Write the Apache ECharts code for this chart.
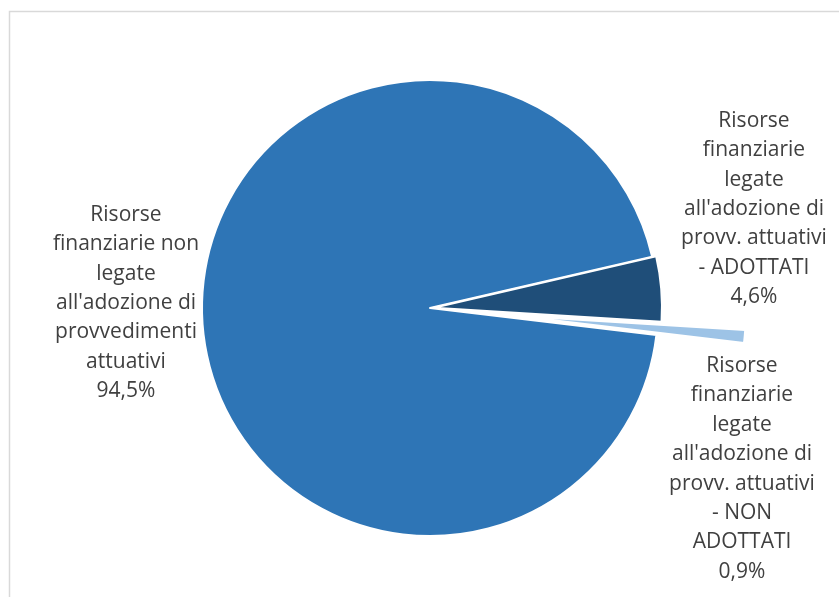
<!DOCTYPE html>
<html>
<head>
<meta charset="utf-8">
<script src="https://cdn.jsdelivr.net/npm/echarts@6/dist/echarts.min.js"></script>
<style>
  html, body { margin: 0; padding: 0; background: #fff; }
  #main { width: 839px; height: 597px; }
</style>
</head>
<body>
<div id="main"></div>
<script>
  // dati del grafico
  var categories = [
    "Risorse finanziarie non legate all'adozione di provvedimenti attuativi",
    "Risorse finanziarie legate all'adozione di provv. attuativi - ADOTTATI",
    "Risorse finanziarie legate all'adozione di provv. attuativi - NON ADOTTATI"
  ];
  var values = [94.5, 4.6, 0.9];
  // righe delle etichette come nell'originale
  var labelLines = [
    ["Risorse", "finanziarie non", "legate", "all'adozione di", "provvedimenti", "attuativi"],
    ["Risorse", "finanziarie", "legate", "all'adozione di", "provv. attuativi", "- ADOTTATI"],
    ["Risorse", "finanziarie", "legate", "all'adozione di", "provv. attuativi", "- NON", "ADOTTATI"]
  ];
  var colors = ['#2E75B6', '#1F4E79', '#9DC3E6'];

  var labelPos = [[126, 303], [754, 209], [742, 469]];
  var explode = [0, 4, 88];   // distacco delle fette in px

  var cx = 430, cy = 308, R = 228, startAngle = 353.2;

  var myChart = echarts.init(document.getElementById('main'));

  function fmtPct(v) {
    return v.toFixed(1).replace('.', ',') + '%';
  }

  var total = values.reduce(function (a, b) { return a + b; }, 0);

  // una serie per fetta, spostata lungo la bisettrice per l'effetto "esploso"
  function sliceSeries(k) {
    var before = 0;
    for (var i = 0; i < k; i++) before += values[i];
    var mid = startAngle - (before + values[k] / 2) / total * 360;
    var rad = mid * Math.PI / 180;
    var ox = explode[k] * Math.cos(rad), oy = -explode[k] * Math.sin(rad);
    return {
      type: 'pie',
      center: [cx + ox, cy + oy],
      radius: R,
      startAngle: startAngle,
      clockwise: true,
      animation: false,
      silent: true,
      emphasis: { disabled: true },
      labelLine: { show: false },
      data: values.map(function (v, i) {
        return {
          name: categories[i],
          value: v,
          itemStyle: i === k
            ? { color: colors[i], borderColor: '#fff', borderWidth: 2 }
            : { color: 'transparent', borderWidth: 0 },
          label: { show: i === k }
        };
      }),
      label: {
        position: 'inside',
        overflow: 'none',
        color: '#404040',
        fontFamily: 'Open Sans',
        fontSize: 21,
        lineHeight: 29.4,
        align: 'center',
        formatter: function (p) {
          return labelLines[p.dataIndex].join('\n') + '\n' + fmtPct(p.value);
        }
      },
      labelLayout: function (p) {
        return {
          x: labelPos[p.dataIndex][0],
          y: labelPos[p.dataIndex][1],
          align: 'center',
          verticalAlign: 'middle'
        };
      }
    };
  }

  myChart.setOption({
    backgroundColor: '#fff',
    graphic: [{
      type: 'rect',
      shape: { x: 9.5, y: 11.5, width: 860, height: 620 },
      style: { fill: 'none', stroke: '#D9D9D9', lineWidth: 1.5 },
      silent: true
    }],
    series: [sliceSeries(0), sliceSeries(1), sliceSeries(2)]
  });
</script>
</body>
</html>
